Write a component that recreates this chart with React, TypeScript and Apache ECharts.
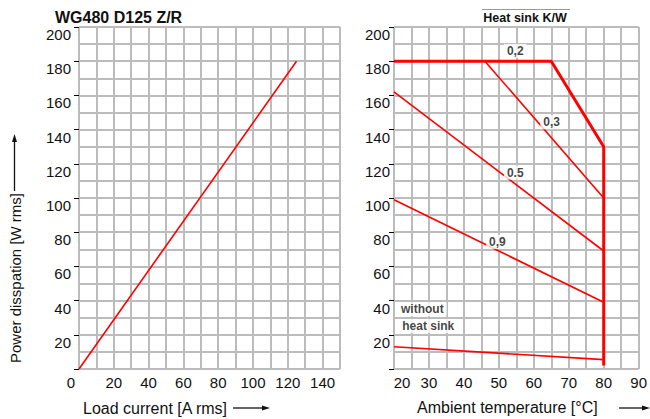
import React, { useEffect, useRef } from "react";
import * as echarts from "echarts";

// ---- data ----
const loadCurrentLine: [number, number][] = [
  [0, 0],
  [125, 180],
];
const sink02: [number, number][] = [
  [20, 180],
  [65, 180],
  [80, 130],
  [80, 2],
];
const sink03: [number, number][] = [
  [46, 180],
  [80, 100],
];
const sink05: [number, number][] = [
  [20, 162],
  [80, 69],
];
const sink09: [number, number][] = [
  [20, 99],
  [80, 39],
];
const noSink: [number, number][] = [
  [20, 13],
  [80, 5.5],
];
const curveLabels = [
  { name: "0,2", value: [54.7, 186] },
  { name: "0,3", value: [65.1, 144.3] },
  { name: "0.5", value: [54.7, 114.9] },
  { name: "0,9", value: [49.6, 74.3] },
  { name: "without", value: [28.1, 35] },
  { name: "heat sink", value: [29.8, 25.2] },
];

const FONT = "Liberation Sans, Arial, sans-serif";
const GRID_COLOR = "#bcbcbc";
const RED = "#ff0000";

export default function App() {
  const ref = useRef<HTMLDivElement>(null);
  useEffect(() => {
    if (!ref.current) return;
    const chart = echarts.init(ref.current, undefined, { renderer: "svg" });
    const splitStyle = { show: true, lineStyle: { color: GRID_COLOR, width: 2 } };
    const yAxisBase = (gridIndex: number, margin: number) => ({
      type: "value",
      gridIndex,
      min: 0,
      max: 200,
      interval: 20,
      axisLine: { show: false },
      axisTick: { show: true, length: 5, lineStyle: { color: "#000", width: 1 } },
      minorTick: { show: false, splitNumber: 2 },
      splitLine: splitStyle,
      minorSplitLine: splitStyle,
      axisLabel: {
        margin,
        fontSize: 15,
        color: "#111",
        fontFamily: FONT,
        verticalAlign: "top",
        padding: [0, 0, 0, 0],
        formatter: (v: number) => (v === 0 ? "" : String(v)),
      },
    });
    chart.setOption({
      animation: false,
      grid: [
        { left: 79, top: 27, width: 261, height: 342 },
        { left: 394, top: 27, width: 246, height: 342 },
      ],
      xAxis: [
        {
          type: "value",
          gridIndex: 0,
          min: 0,
          max: 150,
          interval: 10,
          axisLine: { show: false },
          axisTick: { show: false },
          splitLine: splitStyle,
          axisLabel: {
            margin: 6,
            fontSize: 15,
            color: "#111",
            fontFamily: FONT,
            showMaxLabel: true,
            formatter: (v: number) =>
              v === 0 ? "{zero|0}" : v % 20 === 0 && v < 150 ? String(v) : "",
            rich: { zero: { fontSize: 15, fontFamily: FONT, color: "#111", padding: [0, 16, 0, 0] } },
          },
        },
        {
          type: "value",
          gridIndex: 1,
          min: 20,
          max: 90,
          interval: 5,
          axisLine: { show: false },
          axisTick: { show: false },
          splitLine: splitStyle,
          axisLabel: {
            margin: 6,
            fontSize: 15,
            color: "#111",
            fontFamily: FONT,
            formatter: (v: number) =>
              v === 20 ? "{first|20}" : v % 10 === 0 ? String(v) : "",
            rich: { first: { fontSize: 15, fontFamily: FONT, color: "#111", padding: [0, 0, 0, 16] } },
          },
        },
      ],
      yAxis: [yAxisBase(0, 8), yAxisBase(1, 4)],
      series: [
        {
          type: "line",
          xAxisIndex: 0,
          yAxisIndex: 0,
          data: loadCurrentLine,
          symbol: "none",
          lineStyle: { color: RED, width: 1.6 },
        },
        {
          type: "line",
          xAxisIndex: 1,
          yAxisIndex: 1,
          data: sink02,
          symbol: "none",
          lineStyle: { color: RED, width: 3 },
          z: 6,
        },
        ...[sink03, sink05, sink09, noSink].map((d) => ({
          type: "line",
          xAxisIndex: 1,
          yAxisIndex: 1,
          data: d,
          symbol: "none",
          lineStyle: { color: RED, width: 1.6 },
          z: 3,
        })),
        {
          type: "scatter",
          xAxisIndex: 1,
          yAxisIndex: 1,
          symbolSize: 0,
          data: curveLabels,
          z: 5,
          label: {
            show: true,
            position: "inside",
            formatter: (p: any) => p.name,
            fontSize: 12,
            fontWeight: "bold",
            fontFamily: FONT,
            color: "#111",
            backgroundColor: "#fff",
            padding: [1, 3],
          },
        },
      ],
      graphic: [
        {
          type: "text",
          left: 55,
          top: 9,
          style: { text: "WG480 D125 Z/R", font: `bold 16px ${FONT}`, fill: "#111" },
        },
        {
          type: "line",
          shape: { x1: 482, y1: 9.5, x2: 570, y2: 9.5 },
          style: { stroke: "#999", lineWidth: 1.2 },
        },
        {
          type: "text",
          x: 525,
          y: 18,
          style: {
            text: "Heat sink K/W",
            font: `bold 12.5px ${FONT}`,
            fill: "#111",
            align: "center",
            verticalAlign: "middle",
          },
        },
        {
          type: "text",
          x: 15,
          y: 278,
          rotation: Math.PI / 2,
          style: {
            text: "Power disspation [W rms]",
            font: `15px ${FONT}`,
            fill: "#111",
            align: "center",
            verticalAlign: "middle",
          },
        },
        {
          type: "line",
          shape: { x1: 14.5, y1: 191, x2: 14.5, y2: 140 },
          style: { stroke: "#111", lineWidth: 1.3 },
        },
        {
          type: "polygon",
          shape: { points: [[14.5, 134], [12, 142], [17, 142]] },
          style: { fill: "#111" },
        },
        {
          type: "text",
          x: 83,
          y: 408,
          style: {
            text: "Load current [A rms]",
            font: `16px ${FONT}`,
            fill: "#111",
            align: "left",
            verticalAlign: "middle",
          },
        },
        {
          type: "line",
          shape: { x1: 233, y1: 408, x2: 264, y2: 408 },
          style: { stroke: "#111", lineWidth: 1.3 },
        },
        {
          type: "polygon",
          shape: { points: [[270, 408], [262, 405.5], [262, 410.5]] },
          style: { fill: "#111" },
        },
        {
          type: "text",
          x: 417,
          y: 407,
          style: {
            text: "Ambient temperature [°C]",
            font: `16px ${FONT}`,
            fill: "#111",
            align: "left",
            verticalAlign: "middle",
          },
        },
        {
          type: "line",
          shape: { x1: 619, y1: 408, x2: 644, y2: 408 },
          style: { stroke: "#111", lineWidth: 1.3 },
        },
        {
          type: "polygon",
          shape: { points: [[650, 408], [642, 405.5], [642, 410.5]] },
          style: { fill: "#111" },
        },
      ],
    });
    return () => chart.dispose();
  }, []);
  return (
    <div
      ref={ref}
      style={{ position: "absolute", left: 0, top: 0, width: 650, height: 419, background: "#fff" }}
    />
  );
}
